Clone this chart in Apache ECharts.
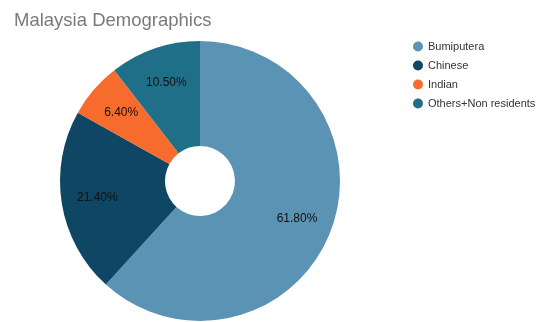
<!DOCTYPE html>
<html>
<head>
<meta charset="utf-8">
<script src="https://cdn.jsdelivr.net/npm/echarts@6/dist/echarts.min.js"></script>
<style>
  html, body { margin: 0; padding: 0; background: #fff; }
  #chart { width: 537px; height: 322px; }
</style>
</head>
<body>
<div id="chart"></div>
<script>
// Population share by ethnic group (percent)
const groups = ['Bumiputera', 'Chinese', 'Indian', 'Others+Non residents'];
const shares = [61.8, 21.4, 6.4, 10.5];
const colors = ['#5a93b3', '#0e4663', '#f76b2c', '#1f6f89'];

const pieData = groups.map((name, i) => ({
  name: name,
  value: shares[i],
  itemStyle: { color: colors[i] }
}));

const chart = echarts.init(document.getElementById('chart'), null, { renderer: 'canvas' });
chart.setOption({
  animation: false,
  title: {
    text: 'Malaysia Demographics',
    left: 9,
    top: 6,
    textStyle: {
      fontFamily: 'Liberation Sans, Arial, sans-serif',
      fontSize: 18.5,
      fontWeight: 'normal',
      color: '#7a7a7a'
    }
  },
  legend: {
    orient: 'vertical',
    left: 408,
    top: 36,
    icon: 'circle',
    itemWidth: 10,
    itemHeight: 10,
    itemGap: 8,
    textStyle: {
      fontFamily: 'Liberation Sans, Arial, sans-serif',
      fontSize: 11,
      color: '#333'
    },
    data: groups
  },
  series: [
    {
      type: 'pie',
      center: [200, 181],
      radius: [35, 140],
      startAngle: 90,
      clockwise: true,
      label: { show: false },
      labelLine: { show: false },
      emphasis: { disabled: true },
      data: pieData
    },
    {
      // label ring: transparent slices that place the percentages mid-ring
      type: 'pie',
      center: [200, 181],
      radius: [62, 140],
      startAngle: 90,
      clockwise: true,
      silent: true,
      legendHoverLink: false,
      itemStyle: { color: 'rgba(0,0,0,0)' },
      label: {
        show: true,
        position: 'inside',
        formatter: p => p.value.toFixed(2) + '%',
        fontFamily: 'Liberation Sans, Arial, sans-serif',
        fontSize: 12,
        color: '#111'
      },
      labelLine: { show: false },
      emphasis: { disabled: true },
      data: groups.map((name, i) => ({ name: name + ' ', value: shares[i] }))
    }
  ]
});
</script>
</body>
</html>
